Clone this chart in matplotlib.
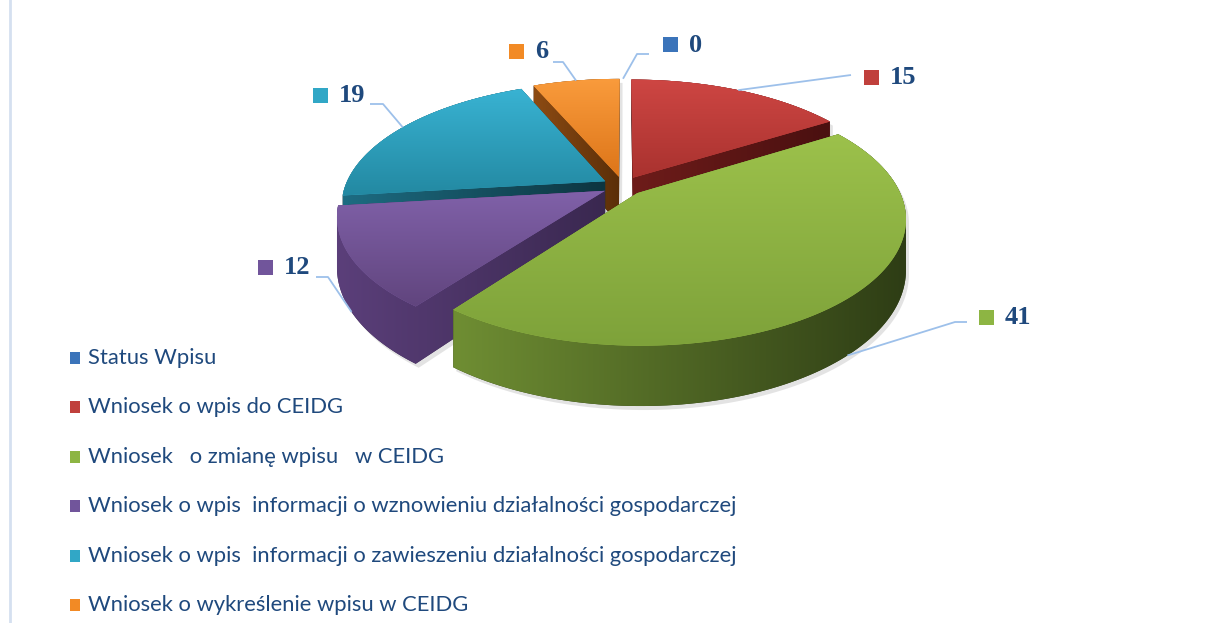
import numpy as np
import matplotlib
matplotlib.use("Agg")
import matplotlib.pyplot as plt
import matplotlib.transforms as mtransforms
from matplotlib.path import Path
from matplotlib.patches import Polygon, Rectangle

# dane z wykresu
kategorie = ["Status Wpisu",
             "Wniosek o wpis do CEIDG",
             "Wniosek   o zmianę wpisu   w CEIDG",
             "Wniosek o wpis  informacji o wznowieniu działalności gospodarczej",
             "Wniosek o wpis  informacji o zawieszeniu działalności gospodarczej",
             "Wniosek o wykreślenie wpisu w CEIDG"]
wartosci = [0, 15, 41, 12, 19, 6]
etykiety = ["0", "15", "41", "12", "19", "6"]

# kolory: legenda, gora (jasny, ciemny), bok (lewy, prawy)
kolor_legendy = ["#3B74BA", "#C0403C", "#8DB543", "#71559B", "#31A7C6", "#F28A25"]
gora_jasny = ["#4F81BD", "#CE4643", "#9CC14B", "#8061A9", "#39B3D3", "#F99B3C"]
gora_ciemny = ["#3A6399", "#A9322F", "#7EA23A", "#61457E", "#2389A2", "#DD7519"]
bok_jasny = ["#2C4D77", "#6E1C1A", "#6F8E33", "#5B3F7A", "#1D6C82", "#8C4B13"]
bok_ciemny = ["#1C3350", "#4A1010", "#2E3D15", "#3A2850", "#0D3540", "#5A2E08"]

# geometria (piksele)
CX, CY, RX, RY, K = 623, 186, 260, 120, 0.193
GLEBOKOSC = 48
WYSUNIECIE = 0.08
TEKST = "#1F497D"
LINIA = "#9DC0EA"

# pozycje etykiet: kwadrat (x, y srodka), linia: koniec, kolano
pozycje_etykiet = [(663, 44), (864, 77), (979, 317), (258, 267), (313, 95), (509, 51)]
konce_linii = [(649, 54), (851, 75), (967, 322), (316, 277), (370, 104), (553, 62)]
kolana_linii = [(637, 54), (851, 75), (955, 322), (328, 277), (383, 104), (563, 62)]


class Perspektywa(mtransforms.Transform):
    input_dims = 2
    output_dims = 2
    is_separable = False
    has_inverse = False

    def transform_non_affine(self, xy):
        xy = np.asarray(xy, dtype=float).reshape(-1, 2)
        w = 1 + K * xy[:, 1]
        return np.column_stack([CX + RX * xy[:, 0] / w, CY - RY * xy[:, 1] / w])

    def transform_path_non_affine(self, path):
        t = np.linspace(0, 1, 24)
        pts = [seg(t) for seg, code in path.iter_bezier()]
        v = np.concatenate(pts)
        return Path(self.transform_non_affine(v), closed=True)


def obrys(w, n=120):
    # wierzcholki klina w ukladzie kola
    t = np.radians(np.linspace(w.theta1, w.theta2, n))
    cx, cy = w.center
    pts = np.column_stack([cx + w.r * np.cos(t), cy + w.r * np.sin(t)])
    return np.vstack([[cx, cy], pts])


def otoczka(p):
    p = sorted(map(tuple, p))
    def cross(o, a, b):
        return (a[0] - o[0]) * (b[1] - o[1]) - (a[1] - o[1]) * (b[0] - o[0])
    dol, gor = [], []
    for q in p:
        while len(dol) >= 2 and cross(dol[-2], dol[-1], q) <= 0:
            dol.pop()
        dol.append(q)
    for q in reversed(p):
        while len(gor) >= 2 and cross(gor[-2], gor[-1], q) <= 0:
            gor.pop()
        gor.append(q)
    return np.array(dol[:-1] + gor[:-1])


def gradient(c1, c2, poziomy):
    a = np.array(matplotlib.colors.to_rgb(c1))
    b = np.array(matplotlib.colors.to_rgb(c2))
    s = np.linspace(0, 1, 200)
    img = a[None, :] * (1 - s[:, None]) + b[None, :] * s[:, None]
    if poziomy:
        return img[None, :, :]
    return img[:, None, :]


fig = plt.figure(figsize=(12.25, 6.23), dpi=100)
ax = fig.add_axes([0, 0, 1, 1])
persp = Perspektywa()

wedges, _ = ax.pie(wartosci, explode=[WYSUNIECIE] * len(wartosci), startangle=90,
                   counterclock=False, radius=1, colors=gora_jasny,
                   wedgeprops=dict(linewidth=0))

# kolejnosc rysowania: od tylu do przodu
srodki = [np.radians((w.theta1 + w.theta2) / 2) for w in wedges]
kolejnosc = np.argsort([-np.sin(s) for s in srodki])

for rank, i in enumerate(kolejnosc):
    w = wedges[i]
    if wartosci[i] == 0:
        w.set_visible(False)
        continue
    v = obrys(w)
    g = persp.transform(v)
    wsp = 1 + K * v[:, 1]
    dolne = g + np.column_stack([np.zeros(len(g)), GLEBOKOSC / wsp])
    bok = otoczka(np.vstack([g, dolne]))
    # delikatny cien pod bryla
    cien = Polygon(bok + [3, 4], closed=True, facecolor="#B0B0B0", alpha=0.35,
                   linewidth=0, zorder=1.5)
    ax.add_patch(cien)
    pbok = Polygon(bok, closed=True, facecolor=bok_ciemny[i], linewidth=0, zorder=2 + rank * 3)
    ax.add_patch(pbok)
    x0, x1 = bok[:, 0].min(), bok[:, 0].max()
    y0, y1 = bok[:, 1].min(), bok[:, 1].max()
    im = ax.imshow(gradient(bok_jasny[i], bok_ciemny[i], True), extent=(x0, x1, y1, y0),
                   aspect="auto", origin="upper", zorder=2.5 + rank * 3, interpolation="bilinear")
    im.set_clip_path(pbok)

    w.set_transform(persp + ax.transData)
    w.set_zorder(3 + rank * 3)
    y0, y1 = g[:, 1].min(), g[:, 1].max()
    x0, x1 = g[:, 0].min(), g[:, 0].max()
    im = ax.imshow(gradient(gora_jasny[i], gora_ciemny[i], False), extent=(x0, x1, y1, y0),
                   aspect="auto", origin="upper", zorder=3.5 + rank * 3, interpolation="bilinear")
    im.set_clip_path(w)

# etykiety wartosci z liniami
for i, w in enumerate(wedges):
    s = srodki[i]
    cx, cy = w.center
    p = np.array([[cx + np.cos(s), cy + np.sin(s)]])
    a = persp.transform(p)[0]
    if np.sin(s) < -0.2:
        a[1] += GLEBOKOSC / (1 + K * p[0, 1])
    kx, ky = kolana_linii[i]
    ex, ey = konce_linii[i]
    ax.plot([a[0], kx, ex], [a[1], ky, ey], color=LINIA, lw=1.3, zorder=40,
            solid_capstyle="butt")
    sx, sy = pozycje_etykiet[i]
    ax.add_patch(Rectangle((sx, sy - 7.5), 15, 15, facecolor=kolor_legendy[i],
                           linewidth=0, zorder=41))
    ax.text(sx + 26, sy + 1, etykiety[i], fontsize=19, fontweight="bold",
            family="Liberation Serif", color=TEKST, va="center", ha="left", zorder=41)

# legenda
for i, nazwa in enumerate(kategorie):
    y = 358 + i * 49.4
    ax.add_patch(Rectangle((70, y - 6), 10, 12, facecolor=kolor_legendy[i], linewidth=0, zorder=41))
    ax.text(88, y, nazwa, fontsize=15.8, family="Lato", color=TEKST, va="center",
            ha="left", zorder=41)

# ramka z lewej strony
ax.plot([10, 10], [0, 623], color="#D5E0F0", lw=2, zorder=1)

ax.set_aspect("auto")
ax.set_xlim(0, 1225)
ax.set_ylim(623, 0)
ax.axis("off")

fig.savefig("out.png", dpi=100)
